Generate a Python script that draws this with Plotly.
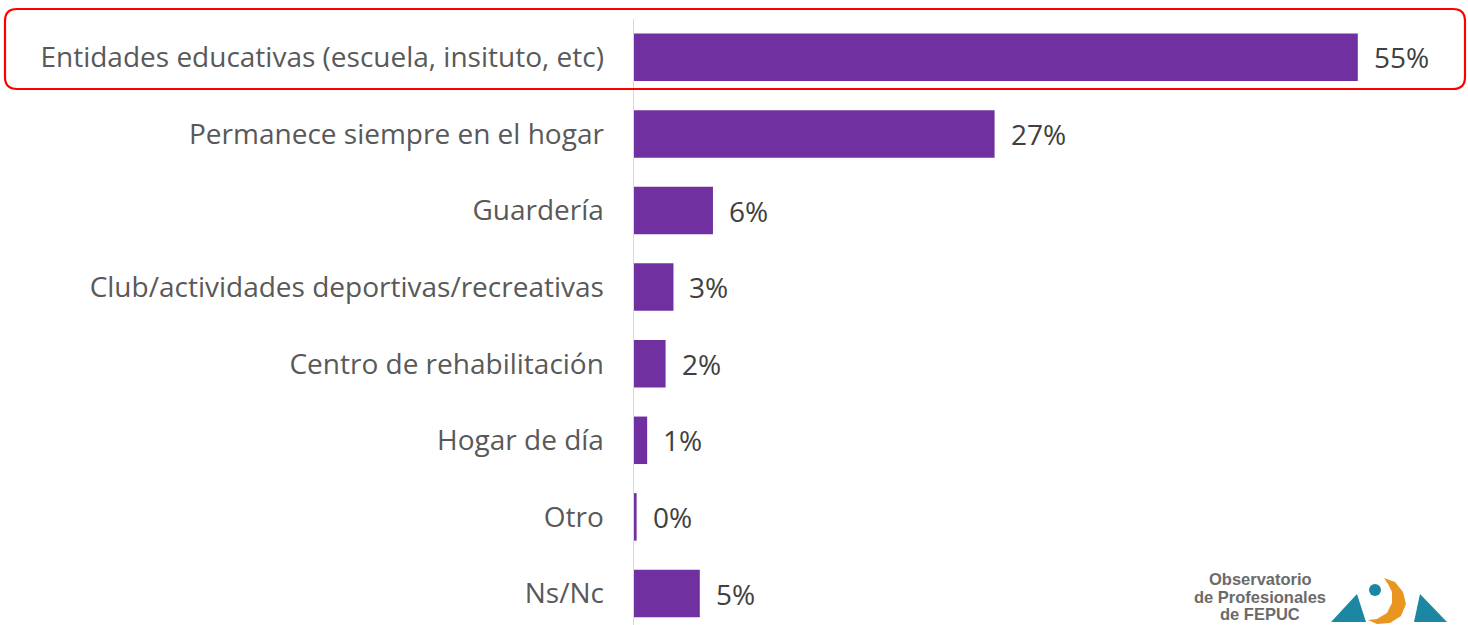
import plotly.graph_objects as go

categories = [
    "Entidades educativas (escuela, insituto, etc)",
    "Permanece siempre en el hogar",
    "Guardería",
    "Club/actividades deportivas/recreativas",
    "Centro de rehabilitación",
    "Hogar de día",
    "Otro",
    "Ns/Nc",
]
values = [55.0, 27.4, 6.0, 3.0, 2.4, 1.0, 0.2, 5.0]
value_labels = ["55%", "27%", "6%", "3%", "2%", "1%", "0%", "5%"]
logo_lines = ["Observatorio", "de Profesionales", "de FEPUC"]

W, H = 1468, 625
L, R, T, B = 634, 20, 19, 0
XMAX = (W - L - R) / 13.16
YTOP, YBOT = -0.5, -0.5 + (H - T - B) / 76.6

PURPLE = "#7030a0"
TEAL = "#1b87a3"
ORANGE = "#e8961f"
FONT = "Open Sans, Noto Sans, sans-serif"


def px(x, y):
    """pixel -> paper coords"""
    return (x - L) / (W - L - R), (H - B - y) / (H - T - B)


fig = go.Figure()
fig.add_trace(go.Bar(
    x=values, y=categories, orientation="h",
    marker=dict(color=PURPLE, line=dict(width=0)),
    width=0.62, hoverinfo="skip",
))

annotations = []
for c, v, t in zip(categories, values, value_labels):
    annotations.append(dict(x=v, y=c, xref="x", yref="y", text=t, showarrow=False,
                            xanchor="left", xshift=14,
                            font=dict(family=FONT, size=28, color="#404040")))

# logo text
for line, yy in zip(logo_lines, [579, 597, 614]):
    lx, ly = px(1260, yy)
    annotations.append(dict(x=lx, y=ly, xref="paper", yref="paper", showarrow=False,
                            text=f"<b>{line}</b>", xanchor="center", yanchor="middle",
                            font=dict(family="Arial, Liberation Sans, sans-serif", size=16.5,
                                      color="#6b6b6b")))

shapes = []
# red rounded highlight box
x0, y0, x1, y1, r = 5, 9, 1465, 89, 12
pts = [
    ("M", x0 + r, y0), ("L", x1 - r, y0), ("Q", x1, y0, x1, y0 + r), ("L", x1, y1 - r),
    ("Q", x1, y1, x1 - r, y1), ("L", x0 + r, y1), ("Q", x0, y1, x0, y1 - r),
    ("L", x0, y0 + r), ("Q", x0, y0, x0 + r, y0),
]
path = ""
for p in pts:
    cmd = p[0]
    coords = p[1:]
    segs = []
    for i in range(0, len(coords), 2):
        a, b = px(coords[i], coords[i + 1])
        segs.append(f"{a:.5f},{b:.5f}")
    path += cmd + " ".join(segs) + " "
shapes.append(dict(type="path", xref="paper", yref="paper", path=path + "Z",
                   line=dict(color="#ff0000", width=2.2), fillcolor="rgba(0,0,0,0)", layer="above"))


def poly(points, color):
    s = ""
    for i, (a, b) in enumerate(points):
        pa, pb = px(a, b)
        s += ("M" if i == 0 else "L") + f"{pa:.5f},{pb:.5f} "
    return dict(type="path", xref="paper", yref="paper", path=s + "Z",
                fillcolor=color, line=dict(width=0), layer="above")


# logo graphic
shapes.append(poly([(1331, 622), (1357, 594), (1366, 622)], TEAL))
shapes.append(poly([(1420, 594), (1414, 622), (1447, 622)], TEAL))
# orange crescent
cr = [(1384, 578), (1395, 582), (1403, 592), (1406, 604), (1401, 616), (1390, 623),
      (1377, 624), (1368, 620), (1377, 619), (1387, 613), (1392, 603), (1392, 592), (1388, 584)]
shapes.append(poly(cr, ORANGE))
cx0, cy0 = px(1369, 584)
cx1, cy1 = px(1381, 596)
shapes.append(dict(type="circle", xref="paper", yref="paper", x0=cx0, y0=cy0, x1=cx1, y1=cy1,
                   fillcolor=TEAL, line=dict(width=0), layer="above"))

fig.update_layout(
    width=W, height=H,
    margin=dict(l=L, r=R, t=T, b=B),
    paper_bgcolor="white", plot_bgcolor="white",
    showlegend=False,
    hovermode=False,
    xaxis=dict(range=[0, XMAX], visible=False, fixedrange=True),
    yaxis=dict(range=[YBOT, YTOP], showline=True, linecolor="#d9d9d9", linewidth=1.5,
               showgrid=False, zeroline=False, ticks="", ticklabelstandoff=23, fixedrange=True,
               tickfont=dict(family=FONT, size=28, color="#595959")),
    annotations=annotations,
    shapes=shapes,
)

fig.write_html("out.html", config={"displayModeBar": False, "staticPlot": True},
               post_script="document.body.style.margin='0px';document.body.style.padding='0px';")
